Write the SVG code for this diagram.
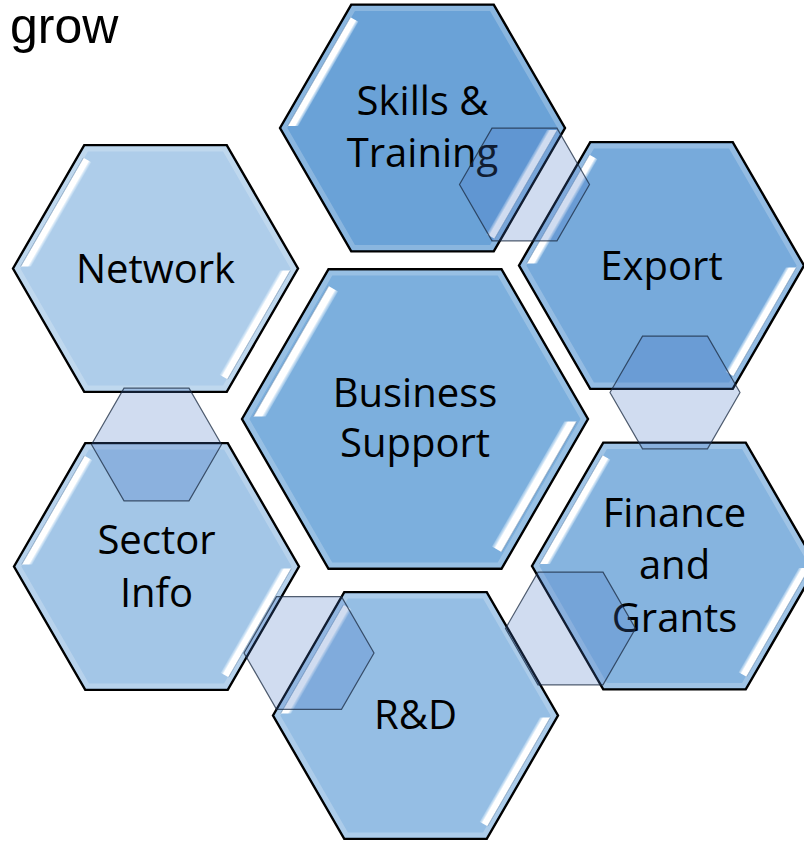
<svg xmlns="http://www.w3.org/2000/svg" xmlns:xlink="http://www.w3.org/1999/xlink" width="804" height="841" viewBox="0 0 804 841">
<style>
.hex{stroke:#000;stroke-width:2.4;stroke-linejoin:miter}
.sheen{fill:none;stroke:#ffffff;stroke-opacity:0.22;stroke-width:5}
.lbl{font-family:"Open Sans","Liberation Sans",sans-serif;font-size:40px;fill:#000;text-anchor:middle}
.conn{fill:#4472C4;fill-opacity:0.25;stroke:#1a2a40;stroke-opacity:0.75;stroke-width:1.2}
.title{font-family:"Liberation Sans",Arial,sans-serif;font-size:50px;fill:#000}
</style>
<defs>
<linearGradient id="sg" gradientUnits="userSpaceOnUse" x1="-135.35" y1="-2" x2="-127.1" y2="2.76">
<stop offset="0" stop-color="#6f8fb0" stop-opacity="0.8"/>
<stop offset="0.14" stop-color="#ffffff"/>
<stop offset="0.68" stop-color="#ffffff"/>
<stop offset="1" stop-color="#cfe6f8" stop-opacity="0.35"/>
</linearGradient>
<polygon id="h" points="-142.5,0 -71.25,-123.4 71.25,-123.4 142.5,0 71.25,123.4 -71.25,123.4"/>
<polygon id="hi" points="-138,0 -69,-119.5 69,-119.5 138,0 69,119.5 -69,119.5"/>
<polygon id="st" points="-135.35,-2 -72.41,-111 -64.16,-106.24 -124.35,-2" fill="url(#sg)"/>
<g id="gloss">
<use xlink:href="#st"/>
<use xlink:href="#st" transform="rotate(180)"/>
</g>
<polygon id="c" points="-65,0 -32.5,-56.3 32.5,-56.3 65,0 32.5,56.3 -32.5,56.3"/>
</defs>

<text id="title" class="title" x="10" y="43">grow</text>

<g id="node-skills" transform="translate(422.5,128)">
<use xlink:href="#h" class="hex" fill="#6aa2d7"/>
<use xlink:href="#hi" class="sheen"/>
<use xlink:href="#gloss"/>
<text class="lbl" y="-13">Skills &amp;</text>
<text class="lbl" y="39">Training</text>
</g>

<g id="node-network" transform="translate(155.5,268.5)">
<use xlink:href="#h" class="hex" fill="#aecdea"/>
<use xlink:href="#hi" class="sheen"/>
<use xlink:href="#gloss"/>
<text class="lbl" y="14">Network</text>
</g>

<g id="node-export" transform="translate(661.5,265.5)">
<use xlink:href="#h" class="hex" fill="#77aadb"/>
<use xlink:href="#hi" class="sheen"/>
<use xlink:href="#gloss"/>
<text class="lbl" y="14">Export</text>
</g>

<g id="node-business" transform="translate(415,419)">
<polygon class="hex" fill="#7cafdd" points="-173,0 -86.5,-149.8 86.5,-149.8 173,0 86.5,149.8 -86.5,149.8"/>
<polygon class="sheen" points="-168.5,0 -84.2,-146 84.2,-146 168.5,0 84.2,146 -84.2,146"/>
<use xlink:href="#gloss" transform="scale(1.2)"/>
<text class="lbl" y="-12">Business</text>
<text class="lbl" y="38">Support</text>
</g>

<g id="node-sector" transform="translate(156.5,566.5)">
<use xlink:href="#h" class="hex" fill="#a3c6e7"/>
<use xlink:href="#hi" class="sheen"/>
<use xlink:href="#gloss"/>
<text class="lbl" y="-13">Sector</text>
<text class="lbl" y="40">Info</text>
</g>

<g id="node-finance" transform="translate(674.5,566)">
<use xlink:href="#h" class="hex" fill="#86b4df"/>
<use xlink:href="#hi" class="sheen"/>
<use xlink:href="#gloss"/>
<text class="lbl" y="-39">Finance</text>
<text class="lbl" y="13">and</text>
<text class="lbl" y="66">Grants</text>
</g>

<g id="node-rd" transform="translate(415.5,715.5)">
<use xlink:href="#h" class="hex" fill="#95bee4"/>
<use xlink:href="#hi" class="sheen"/>
<use xlink:href="#gloss"/>
<text class="lbl" y="13">R&amp;D</text>
</g>

<g id="connectors">
<use xlink:href="#c" class="conn" transform="translate(524.5,184.5)"/>
<use xlink:href="#c" class="conn" transform="translate(675,392.5)"/>
<use xlink:href="#c" class="conn" transform="translate(570.5,628.5)"/>
<use xlink:href="#c" class="conn" transform="translate(309,653)"/>
<use xlink:href="#c" class="conn" transform="translate(156.5,444.5)"/>
</g>
</svg>
